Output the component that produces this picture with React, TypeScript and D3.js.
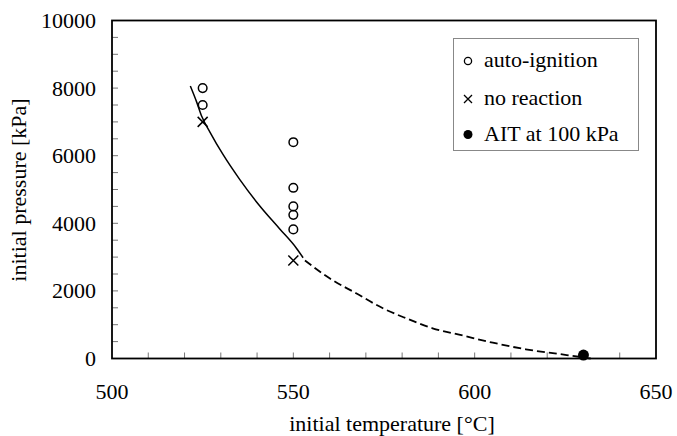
import { curveMonotoneX, line, range, scaleLinear } from 'd3'

// measured points
const igniteT = [525, 525, 550, 550, 550, 550, 550]
const igniteP = [8000, 7500, 6400, 5050, 4500, 4250, 3820]
const noReactT = [525, 550]
const noReactP = [7000, 2900]
const aitT = [630]
const aitP = [100]

// fitted boundary, solid part (measured range) and dashed part (extrapolated)
const solidT = [521.6, 523.3, 524.8, 527, 530.6, 535.2, 540.7, 546.2, 550.8, 552.7]
const solidP = [8060, 7600, 7150, 6700, 6037, 5300, 4520, 3840, 3270, 2980]
const dashT = [553.2, 560, 567.3, 574.7, 581.1, 588.4, 596.7, 605, 614.1, 623.3, 629.7, 632]
const dashP = [2900, 2373, 1930, 1485, 1190, 894, 680, 468, 272, 133, 36, 0]

const xTicks = [500, 550, 600, 650]
const yTicks = [0, 2000, 4000, 6000, 8000, 10000]
const legendLabels = ['auto-ignition', 'no reaction', 'AIT at 100 kPa']

const W = 677
const H = 436
const margin = { top: 20.5, right: 21, bottom: 77.5, left: 112 }
const font = "'Liberation Serif', 'Times New Roman', Times, serif"

export default function App() {
  const x = scaleLinear().domain([500, 650]).range([margin.left, W - margin.right])
  const y = scaleLinear().domain([0, 10000]).range([H - margin.bottom, margin.top])
  const path = line<[number, number]>()
    .x((d) => x(d[0]))
    .y((d) => y(d[1]))
    .curve(curveMonotoneX)

  const solid = solidT.map((t, i) => [t, solidP[i]] as [number, number])
  const dashed = dashT.map((t, i) => [t, dashP[i]] as [number, number])

  const cross = (cx: number, cy: number, s: number) => `M${cx - s},${cy - s}L${cx + s},${cy + s}M${cx - s},${cy + s}L${cx + s},${cy - s}`

  const x0 = x(500)
  const x1 = x(650)
  const y0 = y(0)
  const y1 = y(10000)

  return (
    <svg width={W} height={H} style={{ position: 'absolute', left: 0, top: 0, background: '#fff', fontFamily: font }}>
      {/* minor ticks, inward */}
      {range(510, 650, 10).map((t) => (
        <line key={'xt' + t} x1={x(t)} x2={x(t)} y1={y0} y2={y0 - 6} stroke="#777" strokeWidth={1} />
      ))}
      {range(500, 10000, 500).map((p) => (
        <line key={'yt' + p} x1={x0} x2={x0 + 6} y1={y(p)} y2={y(p)} stroke="#777" strokeWidth={1} />
      ))}

      <rect x={x0} y={y1} width={x1 - x0} height={y0 - y1} fill="none" stroke="#000" strokeWidth={1.8} />

      {xTicks.map((t) => (
        <text key={'xl' + t} x={x(t)} y={399} textAnchor="middle" fontSize={22}>
          {t}
        </text>
      ))}
      {yTicks.map((p) => (
        <text key={'yl' + p} x={96} y={y(p) + 7.5} textAnchor="end" fontSize={22}>
          {p}
        </text>
      ))}
      <text x={392} y={431} textAnchor="middle" fontSize={22}>
        initial temperature [°C]
      </text>
      <text transform="translate(26,190) rotate(-90)" textAnchor="middle" fontSize={22}>
        initial pressure [kPa]
      </text>

      <path d={path(solid) ?? ''} fill="none" stroke="#000" strokeWidth={1.5} />
      <path d={path(dashed) ?? ''} fill="none" stroke="#000" strokeWidth={1.8} strokeDasharray="8,4" />

      {igniteT.map((t, i) => (
        <circle key={'ig' + i} cx={x(t)} cy={y(igniteP[i])} r={4.3} fill="none" stroke="#000" strokeWidth={1.5} />
      ))}
      {noReactT.map((t, i) => (
        <path key={'nr' + i} d={cross(x(t), y(noReactP[i]), 5)} stroke="#000" strokeWidth={1.5} />
      ))}
      {aitT.map((t, i) => (
        <circle key={'ait' + i} cx={x(t)} cy={y(aitP[i])} r={5.5} fill="#000" />
      ))}

      <g>
        <rect x={453.5} y={38.5} width={185} height={112} fill="#fff" stroke="#888" strokeWidth={1} />
        <circle cx={468} cy={61} r={3.6} fill="none" stroke="#000" strokeWidth={1.3} />
        <path d={cross(468, 99, 4)} stroke="#000" strokeWidth={1.3} />
        <circle cx={468} cy={134.5} r={4.5} fill="#000" />
        {legendLabels.map((l, i) => (
          <text key={l} x={484} y={[67, 105, 141][i]} fontSize={22}>
            {l}
          </text>
        ))}
      </g>
    </svg>
  )
}
